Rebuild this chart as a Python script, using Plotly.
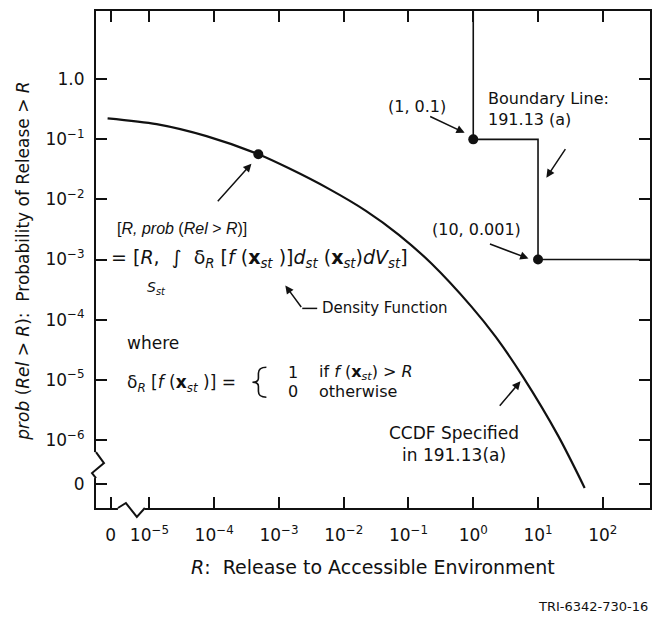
import math
import plotly.graph_objects as go

# ---------------- data ----------------
curve_R = [2.26e-6, 1.29e-5, 7.6e-5, 4.8e-4, 1.4e-3, 5.9e-3, 0.022, 0.071, 0.224, 0.93, 2.24, 5.9, 20.4, 52.5]
curve_P = [0.224, 0.179, 0.113, 0.0565, 0.0333, 0.0150, 0.00646, 0.00258, 8.65e-4, 1.66e-4, 5.1e-5, 1.1e-5,
           1.17e-6, 1.58e-7]
marked_R = [4.8e-4]
marked_P = [0.0565]
boundary_R = [1, 1, 10, 10, 1000]
boundary_P = [100, 0.1, 0.1, 0.001, 0.001]
boundary_pts_R = [1, 10]
boundary_pts_P = [0.1, 0.001]
x_tick_values = [0, 1e-5, 1e-4, 1e-3, 1e-2, 1e-1, 1, 10, 100]
x_tick_labels = ["0", "10<sup>−5</sup>", "10<sup>−4</sup>", "10<sup>−3</sup>", "10<sup>−2</sup>",
                 "10<sup>−1</sup>", "10<sup>0</sup>", "10<sup>1</sup>", "10<sup>2</sup>"]
y_tick_values = [0, 1e-6, 1e-5, 1e-4, 1e-3, 1e-2, 1e-1, 1]
y_tick_labels = ["0", "10<sup>−6</sup>", "10<sup>−5</sup>", "10<sup>−4</sup>", "10<sup>−3</sup>",
                 "10<sup>−2</sup>", "10<sup>−1</sup>", "1.0"]

# ---------------- layout constants (page pixels) ----------------
BODY = 8                                # default page margin around the plot div
PAGE_W, PAGE_H = 661, 624
W, H = PAGE_W - 2 * BODY, PAGE_H - 2 * BODY
PL, PR, PT, PB = 96, 652, 10, 508      # plot frame in page pixels
ML, MT = PL - BODY, PT - BODY
MR, MB = W - (PR - BODY), H - (PB - BODY)
ZERO_X, ZERO_Y = -5.6, -6.74           # broken-axis position of "0"
X_RANGE = [-5.825, 2.729]
Y_RANGE = [-7.136, 1.136]
INK = "#111111"
FONT = "DejaVu Sans"
NB = "\u00a0"


def lx(v):
    return ZERO_X if v == 0 else math.log10(v)


def ly(v):
    return ZERO_Y if v == 0 else math.log10(v)


def px(x):
    return (x - PL) / (PR - PL)


def py(y):
    return (PB - y) / (PB - PT)


fig = go.Figure()
fig.add_trace(go.Scatter(x=[lx(v) for v in curve_R], y=[ly(v) for v in curve_P], mode="lines",
                         line=dict(color=INK, width=2.2, shape="spline", smoothing=0.8),
                         hoverinfo="skip"))
fig.add_trace(go.Scatter(x=[lx(v) for v in boundary_R], y=[ly(v) for v in boundary_P], mode="lines",
                         line=dict(color=INK, width=1.6), hoverinfo="skip"))
fig.add_trace(go.Scatter(x=[lx(v) for v in marked_R + boundary_pts_R],
                         y=[ly(v) for v in marked_P + boundary_pts_P], mode="markers",
                         marker=dict(color=INK, size=10), hoverinfo="skip", cliponaxis=False))

axis_common = dict(showgrid=False, zeroline=False, showline=True, linecolor=INK, linewidth=2,
                   mirror="ticks", ticks="inside", ticklen=11, tickwidth=2, tickcolor=INK,
                   tickfont=dict(family=FONT, size=17, color=INK))
fig.update_xaxes(range=X_RANGE, tickvals=[lx(v) for v in x_tick_values], ticktext=x_tick_labels,
                 ticklabelstandoff=11, **axis_common)
fig.update_yaxes(range=Y_RANGE, tickvals=[ly(v) for v in y_tick_values], ticktext=y_tick_labels,
                 ticklabelstandoff=6, **axis_common)


def path(points):
    return "M " + " L ".join(f"{px(a):.5f},{py(b):.5f}" for a, b in points)


def p(a, b):
    return f"{px(a):.5f},{py(b):.5f}"


brace = (f"M {p(267, 367)} Q {p(259, 367)} {p(259, 373)} L {p(259, 378)} "
         f"Q {p(259, 382)} {p(253, 382)} Q {p(259, 382)} {p(259, 386)} L {p(259, 391)} "
         f"Q {p(259, 397)} {p(267, 397)}")

shapes = [
    dict(type="rect", xref="paper", yref="paper", x0=px(86), x1=px(106), y0=py(478), y1=py(452),
         fillcolor="white", line=dict(width=0), layer="above"),
    dict(type="rect", xref="paper", yref="paper", x0=px(118), x1=px(145), y0=py(514), y1=py(502),
         fillcolor="white", line=dict(width=0), layer="above"),
    dict(type="path", xref="paper", yref="paper", path=path([(96, 452), (104, 463), (92, 473), (96, 478)]),
         line=dict(color=INK, width=2), layer="above"),
    dict(type="path", xref="paper", yref="paper", path=path([(118, 508), (126, 503), (137, 517), (145, 508)]),
         line=dict(color=INK, width=2), layer="above"),
    dict(type="line", xref="paper", yref="paper", x0=px(303), y0=py(308), x1=px(318), y1=py(308),
         line=dict(color=INK, width=1.5)),
    dict(type="path", xref="paper", yref="paper", path=brace, line=dict(color=INK, width=1.6)),
]
fig.update_layout(shapes=shapes)

ann = []


def text(x, y, s, size=17, xanchor="center", align="center", family=FONT, angle=0):
    ann.append(dict(xref="paper", yref="paper", x=px(x), y=py(y), text=s, showarrow=False,
                    xanchor=xanchor, yanchor="middle", align=align, textangle=angle,
                    font=dict(family=family, size=size, color=INK)))


def arrow(tail, head):
    ann.append(dict(xref="paper", yref="paper", x=px(head[0]), y=py(head[1]), text="",
                    showarrow=True, ax=tail[0] - head[0], ay=tail[1] - head[1],
                    arrowhead=2, arrowsize=1.1, arrowwidth=1.5, arrowcolor=INK, standoff=0))


text(374, 567, f"<i>R</i>:{NB}{NB}Release to Accessible Environment", size=19)
text(23, 261, f"<i>prob</i> (<i>Rel</i> &gt; <i>R</i>):{NB}{NB}Probability of Release &gt; <i>R</i>",
     size=17, angle=-90)
text(652, 607, "TRI-6342-730-16", size=13, xanchor="right")

text(418, 106, "(1, 0.1)", size=16)
text(487, 108, "Boundary Line:<br>191.13 (a)", size=16, xanchor="left", align="left")
text(478, 229, "(10, 0.001)", size=16)
text(455, 444, "CCDF Specified<br>in 191.13(a)", size=17)
text(321, 308, "Density Function", size=15, xanchor="left")

text(182, 228, "[<i>R, prob</i> (<i>Rel</i> &gt; <i>R</i>)]", size=16, family="Liberation Sans")
text(109, 258,
     f"= [<i>R</i>,{NB}{NB}∫{NB}{NB}δ<sub><i>R</i></sub>{NB}[<i>f</i>{NB}(<b>x</b><sub><i>st</i></sub>{NB})]"
     f"<i>d</i><sub><i>st</i></sub>{NB}(<b>x</b><sub><i>st</i></sub>)<i>dV</i><sub><i>st</i></sub>]",
     size=19, xanchor="left")
text(157, 288, "<i>S</i><sub><i>st</i></sub>", size=14)

text(125, 343, "where", size=17, xanchor="left")
text(125, 383, f"δ<sub><i>R</i></sub> [<i>f</i> (<b>x</b><sub><i>st</i></sub>{NB})] =", size=17, xanchor="left")
text(287, 372, "1", size=16, xanchor="left")
text(287, 391, "0", size=16, xanchor="left")
text(318, 372, "if <i>f</i> (<b>x</b><sub><i>st</i></sub>) &gt; <i>R</i>", size=16, xanchor="left")
text(318, 391, "otherwise", size=16, xanchor="left")

arrow((217, 202), (252, 163))
arrow((430, 115), (466, 132))
arrow((568, 147), (548, 177))
arrow((490, 243), (530, 258))
arrow((303, 308), (286, 285))
arrow((500, 407), (522, 381))

fig.update_layout(annotations=ann, width=W, height=H,
                  margin=dict(l=ML, r=MR, t=MT, b=MB, pad=0),
                  paper_bgcolor="white", plot_bgcolor="white", showlegend=False,
                  font=dict(family=FONT, color=INK))

fig.write_html("out.html")
